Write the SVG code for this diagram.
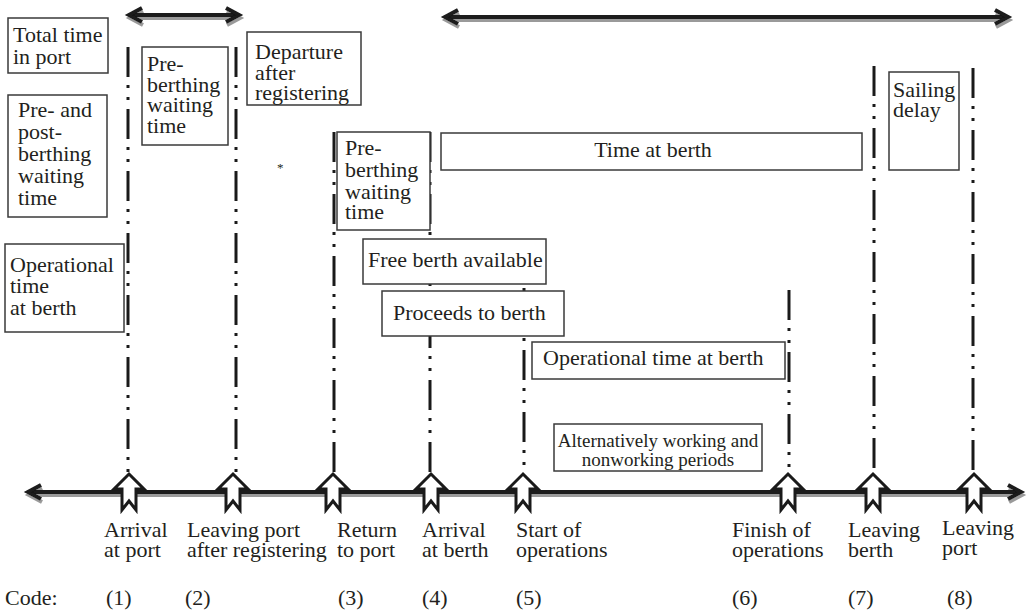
<svg xmlns="http://www.w3.org/2000/svg" width="1027" height="611" viewBox="0 0 1027 611">
  <style>
    text { font-family: "Liberation Serif", "Times New Roman", serif; font-size: 22px; fill: #231f20; }
    .small { font-size: 19px; }
    .star { font-size: 13px; }
    .box { fill: #ffffff; stroke: #3a3a3a; stroke-width: 1.5; }
    .guide { fill: none; stroke: #1a1a1a; stroke-width: 3; stroke-dasharray: 30 8 3 9 3 9; }
    .arrow { fill: none; stroke: #1a1a1a; stroke-width: 4; }
    .event { fill: #ffffff; stroke: #1a1a1a; stroke-width: 3; stroke-linejoin: miter; }
  </style>
  <defs>
    <marker id="chevron" viewBox="-16 -10 22 20" markerWidth="22" markerHeight="20" refX="0" refY="0" orient="auto-start-reverse" markerUnits="userSpaceOnUse" overflow="visible">
      <path d="M-13,-7 L0,0 L-13,7" fill="none" stroke="#1a1a1a" stroke-width="4" stroke-linejoin="miter"/>
    </marker>
    <filter id="shade" x="-5%" y="-50%" width="110%" height="200%">
      <feDropShadow dx="1" dy="3" stdDeviation="0.4" flood-color="#9a9a9a" flood-opacity="1"/>
    </filter>
    <!-- hollow upward block arrow marking an event on the time axis -->
    <path id="up-arrow" class="event" d="M0,474 L15,489 L7,489 L7,510 L0,501 L-7,510 L-7,489 L-15,489 Z"/>
  </defs>

  <!-- dash-dot event guides -->
  <g id="guides">
    <line class="guide" x1="128" y1="47" x2="128" y2="473"/>
    <line class="guide" x1="236" y1="47" x2="236" y2="473"/>
    <line class="guide" x1="334" y1="132" x2="334" y2="473"/>
    <line class="guide" x1="430" y1="132" x2="430" y2="473"/>
    <line class="guide" x1="524" y1="288" x2="524" y2="473"/>
    <line class="guide" x1="789" y1="290" x2="789" y2="473"/>
    <line class="guide" x1="874" y1="66" x2="874" y2="473"/>
    <line class="guide" x1="973" y1="68" x2="973" y2="473"/>
  </g>

  <!-- span arrows and the time axis -->
  <g id="connectors" filter="url(#shade)">
    <line class="arrow" x1="129" y1="15" x2="239" y2="15" marker-start="url(#chevron)" marker-end="url(#chevron)"/>
    <line class="arrow" x1="445" y1="17" x2="1008" y2="17" marker-start="url(#chevron)" marker-end="url(#chevron)"/>
    <line class="arrow" x1="28" y1="492" x2="1021" y2="492" marker-start="url(#chevron)" marker-end="url(#chevron)"/>
  </g>

  <!-- legend boxes on the left -->
  <g id="total-time">
    <rect class="box" x="8" y="18" width="100" height="55"/>
    <text x="13" y="42">Total time<tspan x="13" y="64">in port</tspan></text>
  </g>
  <g id="pre-post-waiting">
    <rect class="box" x="8" y="95" width="99" height="122"/>
    <text x="18" y="117">Pre- and<tspan x="18" y="139">post-</tspan><tspan x="18" y="161">berthing</tspan><tspan x="18" y="183">waiting</tspan><tspan x="18" y="205">time</tspan></text>
  </g>
  <g id="operational-legend">
    <rect class="box" x="5" y="244" width="119" height="88"/>
    <text x="10" y="272">Operational<tspan x="10" y="293">time</tspan><tspan x="10" y="315">at berth</tspan></text>
  </g>

  <!-- period boxes -->
  <g id="pre-berthing-1">
    <rect class="box" x="142" y="47" width="86" height="98"/>
    <text x="147" y="71">Pre-<tspan x="147" y="91.5">berthing</tspan><tspan x="147" y="112">waiting</tspan><tspan x="147" y="132.5">time</tspan></text>
  </g>
  <g id="departure">
    <rect class="box" x="247" y="32" width="114" height="73"/>
    <text x="255" y="59">Departure<tspan x="255" y="80">after</tspan><tspan x="255" y="100">registering</tspan></text>
  </g>
  <g id="asterisk">
    <text class="star" x="277" y="172">*</text>
  </g>
  <g id="pre-berthing-2">
    <rect class="box" x="337" y="132" width="93" height="98"/>
    <text x="345" y="155">Pre-<tspan x="345" y="177">berthing</tspan><tspan x="345" y="199">waiting</tspan><tspan x="345" y="219">time</tspan></text>
  </g>
  <g id="time-at-berth">
    <rect class="box" x="441" y="133" width="421" height="37"/>
    <text x="653" y="157" text-anchor="middle">Time at berth</text>
  </g>
  <g id="free-berth">
    <rect class="box" x="363" y="239" width="183" height="45"/>
    <text x="368" y="267">Free berth available</text>
  </g>
  <g id="proceeds">
    <rect class="box" x="382" y="291" width="182" height="45"/>
    <text x="393" y="320">Proceeds to berth</text>
  </g>
  <g id="operational-time">
    <rect class="box" x="532" y="342" width="253" height="37"/>
    <text x="543" y="365">Operational time at berth</text>
  </g>
  <g id="alternating">
    <rect class="box" x="554" y="424" width="208" height="47"/>
    <text class="small" x="658" y="447" text-anchor="middle">Alternatively working and<tspan x="658" y="466">nonworking periods</tspan></text>
  </g>
  <g id="sailing-delay">
    <rect class="box" x="889" y="72" width="70" height="98"/>
    <text x="893" y="97">Sailing<tspan x="893" y="117">delay</tspan></text>
  </g>

  <!-- events on the time axis -->
  <g id="event-1">
    <use href="#up-arrow" x="129"/>
    <text x="104" y="537">Arrival<tspan x="104" y="557">at port</tspan></text>
    <text x="106" y="605">(1)</text>
  </g>
  <g id="event-2">
    <use href="#up-arrow" x="233"/>
    <text x="187" y="537">Leaving port<tspan x="187" y="557">after registering</tspan></text>
    <text x="185" y="605">(2)</text>
  </g>
  <g id="event-3">
    <use href="#up-arrow" x="333"/>
    <text x="337" y="537">Return<tspan x="337" y="557">to port</tspan></text>
    <text x="338" y="605">(3)</text>
  </g>
  <g id="event-4">
    <use href="#up-arrow" x="431"/>
    <text x="422" y="537">Arrival<tspan x="422" y="557">at berth</tspan></text>
    <text x="422" y="605">(4)</text>
  </g>
  <g id="event-5">
    <use href="#up-arrow" x="523"/>
    <text x="516" y="537">Start of<tspan x="516" y="557">operations</tspan></text>
    <text x="516" y="605">(5)</text>
  </g>
  <g id="event-6">
    <use href="#up-arrow" x="788"/>
    <text x="732" y="537">Finish of<tspan x="732" y="557">operations</tspan></text>
    <text x="732" y="605">(6)</text>
  </g>
  <g id="event-7">
    <use href="#up-arrow" x="873"/>
    <text x="848" y="537">Leaving<tspan x="848" y="557">berth</tspan></text>
    <text x="848" y="605">(7)</text>
  </g>
  <g id="event-8">
    <use href="#up-arrow" x="974"/>
    <text x="942" y="535">Leaving<tspan x="942" y="555">port</tspan></text>
    <text x="947" y="605">(8)</text>
  </g>
  <g id="code-label">
    <text x="5" y="605">Code:</text>
  </g>
</svg>
